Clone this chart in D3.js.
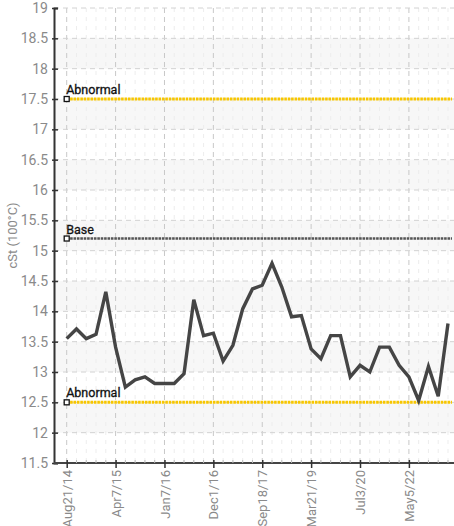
<!DOCTYPE html>
<html>
<head>
<meta charset="utf-8">
<script src="https://cdn.jsdelivr.net/npm/d3@7"></script>
<style>
  body { margin: 0; background: #fff; }
  svg text { font-family: "Roboto", sans-serif; }
</style>
</head>
<body>
<div id="chart"></div>
<script>
// one reading per sample, left to right
const values = [
  13.55, 13.71, 13.55, 13.62, 14.32, 13.41, 12.75, 12.87, 12.92, 12.81,
  12.81, 12.81, 12.97, 14.19, 13.60, 13.64, 13.18, 13.44, 14.04, 14.37,
  14.43, 14.79, 14.40, 13.91, 13.93, 13.38, 13.22, 13.60, 13.60, 12.92,
  13.11, 13.00, 13.41, 13.41, 13.11, 12.92, 12.53, 13.09, 12.60, 13.80
];
// labelled samples (every fifth one)
const tickIndex = [0, 5, 10, 15, 20, 25, 30, 35];
const tickLabels = ['Aug21/14', 'Apr7/15', 'Jan7/16', 'Dec1/16', 'Sep18/17', 'Mar21/19', 'Jul3/20', 'May5/22'];
const yTicks = [11.5, 12, 12.5, 13, 13.5, 14, 14.5, 15, 15.5, 16, 16.5, 17, 17.5, 18, 18.5, 19];
const limitNames = ['Abnormal', 'Base', 'Abnormal'];
const limitValues = [17.5, 15.2, 12.5];
const limitColors = ['#f7c600', '#555', '#f7c600'];

const W = 454, H = 526;
const mLeft = 54, mRight = 454, mTop = 8, mBottom = 463;

const svg = d3.select('#chart').append('svg')
  .attr('width', W)
  .attr('height', H);

const x = d3.scaleLinear().domain([0, values.length - 1]).range([66.7, 448]);
const y = d3.scaleLinear().domain([11.5, 19]).range([mBottom, mTop]);

// shaded bands
const bands = yTicks.filter(t => t < 19 && Math.round(t * 2) % 2 === 0);
svg.append('g')
  .selectAll('rect')
  .data(bands)
  .join('rect')
  .attr('x', mLeft)
  .attr('width', mRight - mLeft)
  .attr('y', d => y(d + 0.5))
  .attr('height', d => y(d) - y(d + 0.5))
  .attr('fill', '#f7f7f7');

// minor vertical grid at each sample
svg.append('g')
  .selectAll('line')
  .data(d3.range(values.length).filter(i => i % 5 !== 0))
  .join('line')
  .attr('x1', d => x(d)).attr('x2', d => x(d))
  .attr('y1', mTop).attr('y2', mBottom)
  .attr('stroke', '#ededed')
  .attr('stroke-dasharray', '4,5');

// major vertical grid
svg.append('g')
  .selectAll('line')
  .data(tickIndex)
  .join('line')
  .attr('x1', d => x(d)).attr('x2', d => x(d))
  .attr('y1', mTop).attr('y2', mBottom)
  .attr('stroke', '#c8c8c8')
  .attr('stroke-dasharray', '5,4');

// horizontal grid
svg.append('g')
  .selectAll('line')
  .data(yTicks.slice(1))
  .join('line')
  .attr('x1', mLeft).attr('x2', mRight)
  .attr('y1', d => y(d)).attr('y2', d => y(d))
  .attr('stroke', '#d2d2d2')
  .attr('stroke-dasharray', '5,4');

// limit lines
const limits = svg.append('g')
  .selectAll('g')
  .data(limitValues)
  .join('g');

limits.append('line')
  .attr('x1', x(0)).attr('x2', 452)
  .attr('y1', d => y(d)).attr('y2', d => y(d))
  .attr('stroke', (d, i) => limitColors[i])
  .attr('stroke-width', (d, i) => i === 1 ? 2.5 : 3)
  .attr('stroke-dasharray', '2.6,0.8');

limits.append('rect')
  .attr('x', x(0) - 2.5)
  .attr('y', d => y(d) - 2.5)
  .attr('width', 5).attr('height', 5)
  .attr('fill', '#fff')
  .attr('stroke', '#111')
  .attr('stroke-width', 1.3);

limits.append('text')
  .attr('x', x(0) - 0.5)
  .attr('y', d => y(d) - 5)
  .attr('font-size', 12.5)
  .attr('fill', '#111')
  .attr('stroke', '#111')
  .attr('stroke-width', 0.3)
  .text((d, i) => limitNames[i]);

// series
const line = d3.line()
  .x((d, i) => x(i))
  .y(d => y(d));

svg.append('path')
  .datum(values)
  .attr('fill', 'none')
  .attr('stroke', '#454545')
  .attr('stroke-width', 3.4)
  .attr('stroke-linejoin', 'miter')
  .attr('d', line);

// y axis
const yAxis = svg.append('g')
  .attr('transform', `translate(${mLeft},0)`)
  .call(d3.axisRight(y).tickValues(yTicks).tickSize(4).tickFormat(d3.format('')));
yAxis.select('.domain').attr('stroke', '#333').attr('stroke-width', 2);
yAxis.selectAll('.tick line').attr('stroke', '#333').attr('stroke-width', 1.5).attr('x1', -2);
yAxis.selectAll('.tick text')
  .attr('x', -6)
  .attr('text-anchor', 'end')
  .attr('font-size', 14)
  .attr('fill', '#8a8a8a');

// x axis
const xAxis = svg.append('g')
  .attr('transform', `translate(0,${mBottom})`)
  .call(d3.axisBottom(x).tickValues(tickIndex).tickSize(5).tickFormat((d, i) => tickLabels[i]));
xAxis.select('.domain').attr('d', `M${mLeft},0H${mRight}`).attr('stroke', '#444').attr('stroke-width', 2);
xAxis.selectAll('.tick line').attr('stroke', '#333').attr('stroke-width', 1.5).attr('y1', -3);
xAxis.selectAll('.tick text')
  .attr('transform', 'rotate(-90)')
  .attr('x', -7)
  .attr('y', 0)
  .attr('dy', '0.35em')
  .attr('text-anchor', 'end')
  .attr('font-size', 13)
  .attr('fill', '#8a8a8a');

// minor x ticks
svg.append('g')
  .selectAll('line')
  .data(d3.range(values.length).filter(i => i % 5 !== 0))
  .join('line')
  .attr('x1', d => x(d)).attr('x2', d => x(d))
  .attr('y1', mBottom - 3).attr('y2', mBottom)
  .attr('stroke', '#bbb');

svg.append('text')
  .attr('transform', `translate(17,${(mTop + mBottom) / 2}) rotate(-90)`)
  .attr('text-anchor', 'middle')
  .attr('font-size', 13)
  .attr('fill', '#8a8a8a')
  .text('cSt (100°C)');
</script>
</body>
</html>
